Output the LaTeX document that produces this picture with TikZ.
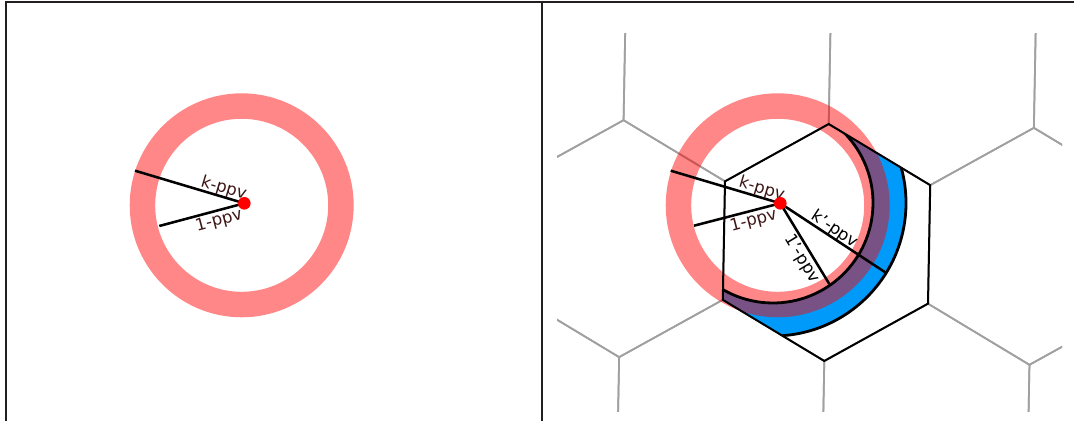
\documentclass[tikz,border=0pt]{standalone}
\usepackage{fontspec}
\setmainfont{DejaVu Sans}

\definecolor{bandblue}{RGB}{0,155,250}
\definecolor{labelbrown}{RGB}{62,22,22}
\definecolor{gridgray}{RGB}{160,160,160}
\definecolor{framegray}{RGB}{35,31,32}

\tikzset{
  ppvline/.style={black,line width=1.9pt},
  ppvlabel/.style={sloped,inner sep=0pt,font=\fontsize{12.5pt}{15pt}\selectfont},
  querydot/.style={circle,fill=red,inner sep=0pt,minimum size=9.5pt},
  knnring/.style={red,opacity=0.47,line width=19.1pt},
  hexedge/.style={black,line width=1.5pt},
  gridedge/.style={gridgray,line width=1.3pt},
  arcedge/.style={black,line width=2.1pt}
}

\begin{document}
\begin{tikzpicture}[x=0.75pt,y=0.75pt]
  \useasboundingbox (0,0) rectangle (1074,421);

  % panel frame
  \draw[framegray,line width=1.8pt] (6,0) -- (6,419) -- (1074,419);
  \draw[framegray,line width=1.8pt] (542,419) -- (542,0);

  \coordinate (qL) at (244.3,217.7);
  \coordinate (ringL) at (241.7,215.7);
  \coordinate (kL) at (135,250.3);
  \coordinate (oneL) at (159.3,195);

  \coordinate (qR) at (780.3,217.7);
  \coordinate (ringR) at (777.7,215.7);
  \coordinate (arcc) at (773,218);
  \coordinate (kR) at (670.7,250.3);
  \coordinate (oneR) at (694,195.3);
  \coordinate (kpR) at (886.7,147.7);
  \coordinate (onepR) at (829.3,137);

  % hexagonal cells
  \begin{scope}
    \clip (557,9) rectangle (1062,387);
    \begin{scope}[rotate around={-1.07:(826.5,178.5)}]
      \foreach \cx/\cy in {621.3/178.5,1031.7/178.5,
                           518.7/356.25,723.9/356.25,929.1/356.25,1134.3/356.25,
                           518.7/0.75,723.9/0.75,929.1/0.75,1134.3/0.75}
        \draw[gridedge,shift={(\cx,\cy)}] (30:118.5) -- (90:118.5) -- (150:118.5)
          -- (210:118.5) -- (270:118.5) -- (330:118.5) -- cycle;
    \end{scope}
  \end{scope}

  % band inside the cell
  \begin{scope}[shift={(826.5,178.5)},rotate=-1.07]
    \clip (30:118.5) -- (90:118.5) -- (150:118.5) -- (210:118.5) -- (270:118.5) -- (330:118.5) -- cycle;
    \fill[bandblue,even odd rule] (arcc) circle (133) (arcc) circle (100);
  \end{scope}

  % rings
  \draw[knnring] (ringL) circle (99.25);
  \draw[knnring] (ringR) circle (99.25);

  \begin{scope}[shift={(826.5,178.5)},rotate=-1.07]
    \clip (30:118.5) -- (90:118.5) -- (150:118.5) -- (210:118.5) -- (270:118.5) -- (330:118.5) -- cycle;
    \draw[arcedge] (arcc) circle (133);
    \draw[arcedge] (arcc) circle (100);
  \end{scope}
  \draw[hexedge,shift={(826.5,178.5)},rotate=-1.07] (30:118.5) -- (90:118.5) -- (150:118.5)
    -- (210:118.5) -- (270:118.5) -- (330:118.5) -- cycle;

  % neighbour lines
  \draw[ppvline] (qL) -- (kL) node[ppvlabel,text=labelbrown,above=-0.8pt,pos=0.21] {k-ppv};
  \draw[ppvline] (qL) -- (oneL) node[ppvlabel,text=labelbrown,below=1pt,pos=0.33] {1-ppv};
  \draw[ppvline] (qR) -- (kR) node[ppvlabel,text=labelbrown,above=-0.8pt,pos=0.19] {k-ppv};
  \draw[ppvline] (qR) -- (oneR) node[ppvlabel,text=labelbrown,below=1pt,pos=0.34] {1-ppv};
  \draw[ppvline] (qR) -- (kpR) node[ppvlabel,above=-0.8pt,pos=0.47] {k'-ppv};
  \draw[ppvline] (qR) -- (onepR) node[ppvlabel,below=1pt,pos=0.62] {1'-ppv};

  \node[querydot] (dotL) at (qL) {};
  \node[querydot] (dotR) at (qR) {};
\end{tikzpicture}
\end{document}
